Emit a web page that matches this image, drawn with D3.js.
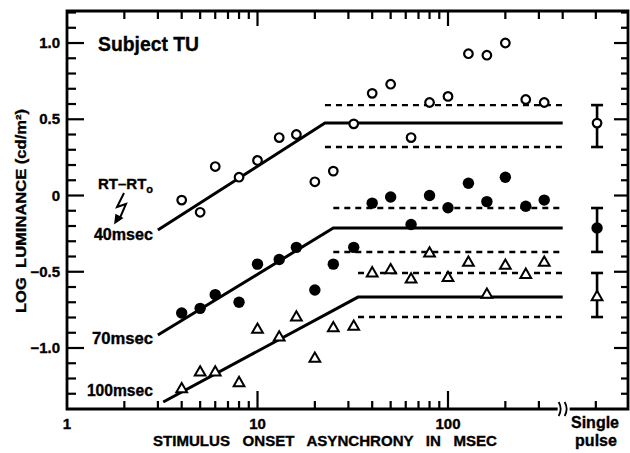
<!DOCTYPE html>
<html>
<head>
<meta charset="utf-8">
<script src="https://cdn.jsdelivr.net/npm/d3@7"></script>
<style>
  html, body { margin: 0; padding: 0; background: #fff; }
  svg { display: block; }
  text { font-family: "Liberation Sans Narrow", "Liberation Sans", Arial, sans-serif; font-weight: bold; fill: #000; stroke: #000; stroke-width: 0.35; }
</style>
</head>
<body>
<svg id="chart" width="630" height="453"></svg>
<script>
// stimulus onset asynchrony (msec)
const soa = [4, 5, 6, 8, 10, 13, 16, 20, 25, 32, 40, 50, 64, 80, 100, 128, 160, 200, 256, 320];

// log luminance for RT-RT0 = 40, 70, 100 msec
const lum40 = [-0.03, -0.11, 0.19, 0.12, 0.23, 0.38, 0.40, 0.09, 0.16, 0.47, 0.67, 0.73, 0.38, 0.61, 0.65, 0.93, 0.92, 1.00, 0.63, 0.61];
const lum70 = [-0.77, -0.74, -0.65, -0.70, -0.45, -0.42, -0.34, -0.62, -0.45, -0.34, -0.05, -0.01, -0.19, 0.00, -0.08, 0.08, -0.04, 0.12, -0.07, -0.03];
const lum100 = [-1.27, -1.16, -1.16, -1.23, -0.88, -0.93, -0.80, -1.07, -0.87, -0.86, -0.51, -0.49, -0.55, -0.38, -0.54, -0.44, -0.65, -0.46, -0.52, -0.44];

// single pulse: mean and +- range
const singleMean = [0.475, -0.213, -0.666];
const singleHi = [0.593, -0.082, -0.508];
const singleLo = [0.318, -0.370, -0.797];

// fitted lines: start, knee, end (msec) and start level
const fitStart = [3, 3, 3.2];
const fitStartLum = [-0.226, -0.915, -1.354];
const fitKnee = [22.6, 25, 33.7];
const fitEnd = 400;

const rtLabels = ["40msec", "70msec", "100msec"];
const markers = ["open", "filled", "triangle"];

const xMajor = [10, 100];
const xMinor = [2, 3, 4, 5, 6, 7, 8, 9, 20, 30, 40, 50, 60, 70, 80, 90, 200, 300];
const xTopExtra = [400];
const xTickLabels = [1, 10, 100];
const yTickLabels = [1.0, 0.5, 0, -0.5, -1.0];
const singlePulseAt = 606; // plotted at this position of the log axis

const svg = d3.select("#chart");
const L = 67, R = 628, T = 11, B = 409;

const x = d3.scaleLog().domain([1, 1000]).range([L, L + 3 * 190.5]);
const y = d3.scaleLinear().domain([-1.4, 1.21]).range([B, T]);
const sx = x(singlePulseAt);

const g = svg.append("g");

// frame
g.append("path")
  .attr("d", `M${L},${T}H${R}V${B}H${L}Z`)
  .attr("fill", "none").attr("stroke", "#000").attr("stroke-width", 2.8);

// axis break on the bottom axis
const brk = x(395);
g.append("rect").attr("x", brk - 4).attr("y", B - 2).attr("width", 12).attr("height", 4).attr("fill", "#fff");
[0, 6].forEach(o => {
  g.append("path")
    .attr("d", `M${brk - 3 + o},${B - 7} q4,7 0,14`)
    .attr("fill", "none").attr("stroke", "#000").attr("stroke-width", 1.8);
});

// y ticks (left inward, right inward)
const yTicks = d3.range(-13, 13).map(d => d / 10);
yTicks.forEach(v => {
  const major = Math.abs(Math.round(v * 10) % 5) === 0;
  const yy = y(v);
  g.append("line").attr("x1", L).attr("x2", L + (major ? 17 : 9)).attr("y1", yy).attr("y2", yy)
    .attr("stroke", "#000").attr("stroke-width", 2.2);
  g.append("line").attr("x1", R).attr("x2", R - (major ? 14 : 7)).attr("y1", yy).attr("y2", yy)
    .attr("stroke", "#000").attr("stroke-width", 2.2);
});

// x ticks (bottom and top, inward)
const xTick = (v, len, top) => {
  const xx = typeof v === "number" ? x(v) : v;
  g.append("line").attr("x1", xx).attr("x2", xx)
    .attr("y1", top ? T : B).attr("y2", top ? T + len : B - len)
    .attr("stroke", "#000").attr("stroke-width", 2.2);
};
xMajor.forEach(v => { xTick(v, 18, false); xTick(v, 15, true); });
xMinor.forEach(v => { xTick(v, 8, false); xTick(v, 8, true); });
xTopExtra.forEach(v => xTick(v, 8, true));
xTick(sx, 8, false); xTick(sx, 8, true);

// tick labels
g.selectAll(".ylab").data(yTickLabels).join("text")
  .attr("x", L - 7).attr("y", d => y(d) + 5)
  .attr("text-anchor", "end").attr("font-size", 15)
  .text(d => d === 0 ? "0" : d3.format(".1f")(d).replace("-", "\u2212"));

g.selectAll(".xlab").data(xTickLabels).join("text")
  .attr("x", d => x(d)).attr("y", B + 20)
  .attr("text-anchor", "middle").attr("font-size", 15)
  .text(d => d);

// axis titles
g.append("text")
  .attr("transform", "translate(26,211) rotate(-90)")
  .attr("text-anchor", "middle").attr("font-size", 15)
  .attr("textLength", 204).attr("lengthAdjust", "spacingAndGlyphs")
  .style("white-space", "pre")
  .text("LOG  LUMINANCE (cd/m²)");

g.append("text")
  .attr("x", 153).attr("y", 446).attr("font-size", 15)
  .attr("textLength", 344).attr("lengthAdjust", "spacingAndGlyphs")
  .style("white-space", "pre")
  .text("STIMULUS   ONSET   ASYNCHRONY   IN   MSEC");

g.append("text").attr("x", 595).attr("y", 428).attr("text-anchor", "middle").attr("font-size", 16).text("Single");
g.append("text").attr("x", 596).attr("y", 446).attr("text-anchor", "middle").attr("font-size", 16).text("pulse");

g.append("text").attr("x", 98).attr("y", 51).attr("font-size", 21)
  .attr("textLength", 101).attr("lengthAdjust", "spacingAndGlyphs")
  .text("Subject TU");

// RT-RT0 annotation
const rt = g.append("text").attr("x", 98).attr("y", 189).attr("font-size", 15);
rt.append("tspan").text("RT\u2013RT");
rt.append("tspan").attr("font-size", 11).attr("dy", 4).text("o");
g.append("path")
  .attr("d", "M124,193 L117,207 L126,204 L119,220")
  .attr("fill", "none").attr("stroke", "#000").attr("stroke-width", 2);
g.append("path")
  .attr("d", "M115,223 L116,215 L122,218 Z")
  .attr("fill", "#000").attr("stroke", "#000").attr("stroke-width", 1.5);

// fitted lines
const lineGen = d3.line().x(d => x(d[0])).y(d => y(d[1]));
singleMean.forEach((m, i) => {
  g.append("path")
    .datum([[fitStart[i], fitStartLum[i]], [fitKnee[i], m], [fitEnd, m]])
    .attr("d", lineGen)
    .attr("fill", "none").attr("stroke", "#000").attr("stroke-width", 3);
  [singleHi[i], singleLo[i]].forEach(v => {
    g.append("path")
      .datum([[fitKnee[i], v], [fitEnd, v]])
      .attr("d", lineGen)
      .attr("fill", "none").attr("stroke", "#000").attr("stroke-width", 2.4)
      .attr("stroke-dasharray", "6,5");
  });
});

// RT labels at the start of the lines
const labelDy = [10, 9, -6];
const labelWidth = [59, 61, 66];
rtLabels.forEach((t, i) => {
  g.append("text")
    .attr("x", x(3) - 5 - labelWidth[i]).attr("y", y(fitStartLum[i]) + labelDy[i])
    .attr("font-size", 16)
    .attr("textLength", labelWidth[i]).attr("lengthAdjust", "spacingAndGlyphs")
    .text(t);
});

// data markers
const drawMarker = (sel, kind) => {
  if (kind === "open") {
    sel.append("circle").attr("r", 4.3).attr("fill", "#fff").attr("stroke", "#000").attr("stroke-width", 2.2);
  } else if (kind === "filled") {
    sel.append("circle").attr("r", 5.7).attr("fill", "#000");
  } else {
    sel.append("path").attr("d", d3.symbol(d3.symbolTriangle, 50)).attr("fill", "#fff")
      .attr("stroke", "#000").attr("stroke-width", 2);
  }
};

[lum40, lum70, lum100].forEach((series, i) => {
  const pts = g.append("g").selectAll("g")
    .data(soa.map((s, j) => [s, series[j]]))
    .join("g")
    .attr("transform", d => `translate(${x(d[0])},${y(d[1])})`);
  drawMarker(pts, markers[i]);

  // single pulse error bar
  const eb = g.append("g");
  eb.append("line").attr("x1", sx).attr("x2", sx).attr("y1", y(singleHi[i])).attr("y2", y(singleLo[i]))
    .attr("stroke", "#000").attr("stroke-width", 2.6);
  [singleHi[i], singleLo[i]].forEach(v => {
    eb.append("line").attr("x1", sx - 6).attr("x2", sx + 6).attr("y1", y(v)).attr("y2", y(v))
      .attr("stroke", "#000").attr("stroke-width", 2.6);
  });
  const m = eb.append("g").attr("transform", `translate(${sx},${y(singleMean[i])})`);
  drawMarker(m, markers[i]);
});
</script>
</body>
</html>
